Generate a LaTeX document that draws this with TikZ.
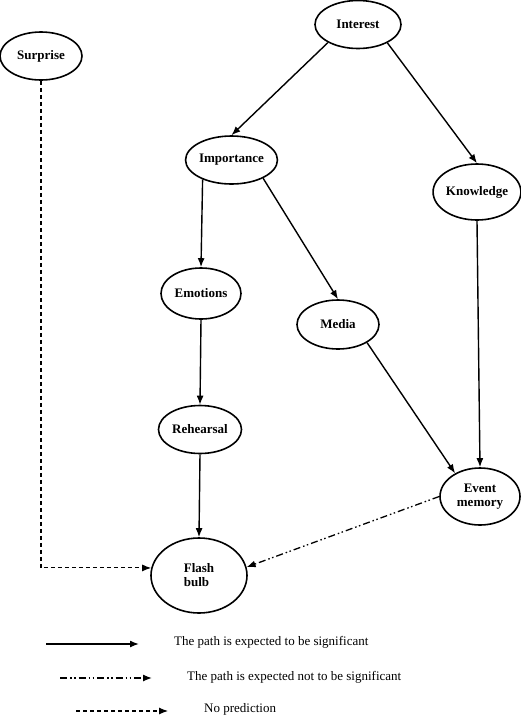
\documentclass[tikz,border=0pt]{standalone}
\usepackage{fontspec}
\setmainfont{Liberation Serif}
\usepackage{tikz}
\usetikzlibrary{shapes,arrows.meta,positioning}

\begin{document}
\begin{tikzpicture}[
    x=1pt, y=-1pt,
    every node/.style={font=\fontsize{13}{14}\selectfont},
    oval/.style={draw, ellipse, line width=1.6pt, inner sep=0pt, font=\fontsize{13}{14}\selectfont\bfseries},
    path/.style={line width=1.4pt, -{Latex[length=9pt,width=7pt]}},
    notsig/.style={path, line width=1.3pt, dash pattern=on 7pt off 3pt on 1.5pt off 2.5pt on 1.5pt off 3pt},
    nopred/.style={path, line width=1.1pt, dash pattern=on 4pt off 3pt}
]
    \useasboundingbox (0,0) rectangle (521,716);

    \node[oval, minimum width=86pt, minimum height=48pt] (interest) at (358,24.5) {Interest};
    \node[oval, minimum width=82pt, minimum height=48pt] (surprise) at (41,56) {Surprise};
    \node[oval, minimum width=85pt, minimum height=48pt] (importance) at (231.5,160) {Importance};
    \node[oval, minimum width=87pt, minimum height=56pt] (knowledge) at (477,192) {Knowledge};
    \node[oval, minimum width=80pt, minimum height=51pt] (emotions) at (201,293.5) {Emotions};
    \node[oval, minimum width=82pt, minimum height=49pt] (media) at (338,324.5) {Media};
    \node[oval, minimum width=83pt, minimum height=48pt] (rehearsal) at (200,429.5) {Rehearsal};
    \node[oval, minimum width=80pt, minimum height=57pt, align=center] (event) at (480,496.5) {Event\\memory};
    \node[oval, minimum width=96pt, minimum height=75pt, align=left] (flash) at (199,575.5) {Flash\\bulb};

    \draw[path] (interest.211) -- (importance.north);
    \draw[path] (interest.328) -- (knowledge.north);
    \draw[path] (importance.214) -- (emotions.north);
    \draw[path] (importance.330) -- (media.north);
    \draw[path] (emotions.south) -- (rehearsal.north);
    \draw[path] (media.328) -- (event.137);
    \draw[path] (knowledge.south) -- (event.north);
    \draw[path] (rehearsal.south) -- (flash.north);
    \draw[notsig] (event.west) -- (flash.10);
    \draw[nopred] (surprise.south) |- (flash.171);

    % legend
    \coordinate (sigA) at (46,644);
    \coordinate (sigB) at (139,644);
    \coordinate (notA) at (60,678);
    \coordinate (notB) at (152,678);
    \coordinate (noA) at (76,711);
    \coordinate (noB) at (168,711);
    \draw[path] (sigA) -- (sigB);
    \draw[notsig] (notA) -- (notB);
    \draw[nopred] (noA) -- (noB);
    \node[anchor=west, inner sep=0pt] (sigtext) at (174,642) {The path is expected to be significant};
    \node[anchor=west, inner sep=0pt] (nottext) at (187,677) {The path is expected not to be significant};
    \node[anchor=west, inner sep=0pt] (notext) at (204,709) {No prediction};
\end{tikzpicture}
\end{document}
